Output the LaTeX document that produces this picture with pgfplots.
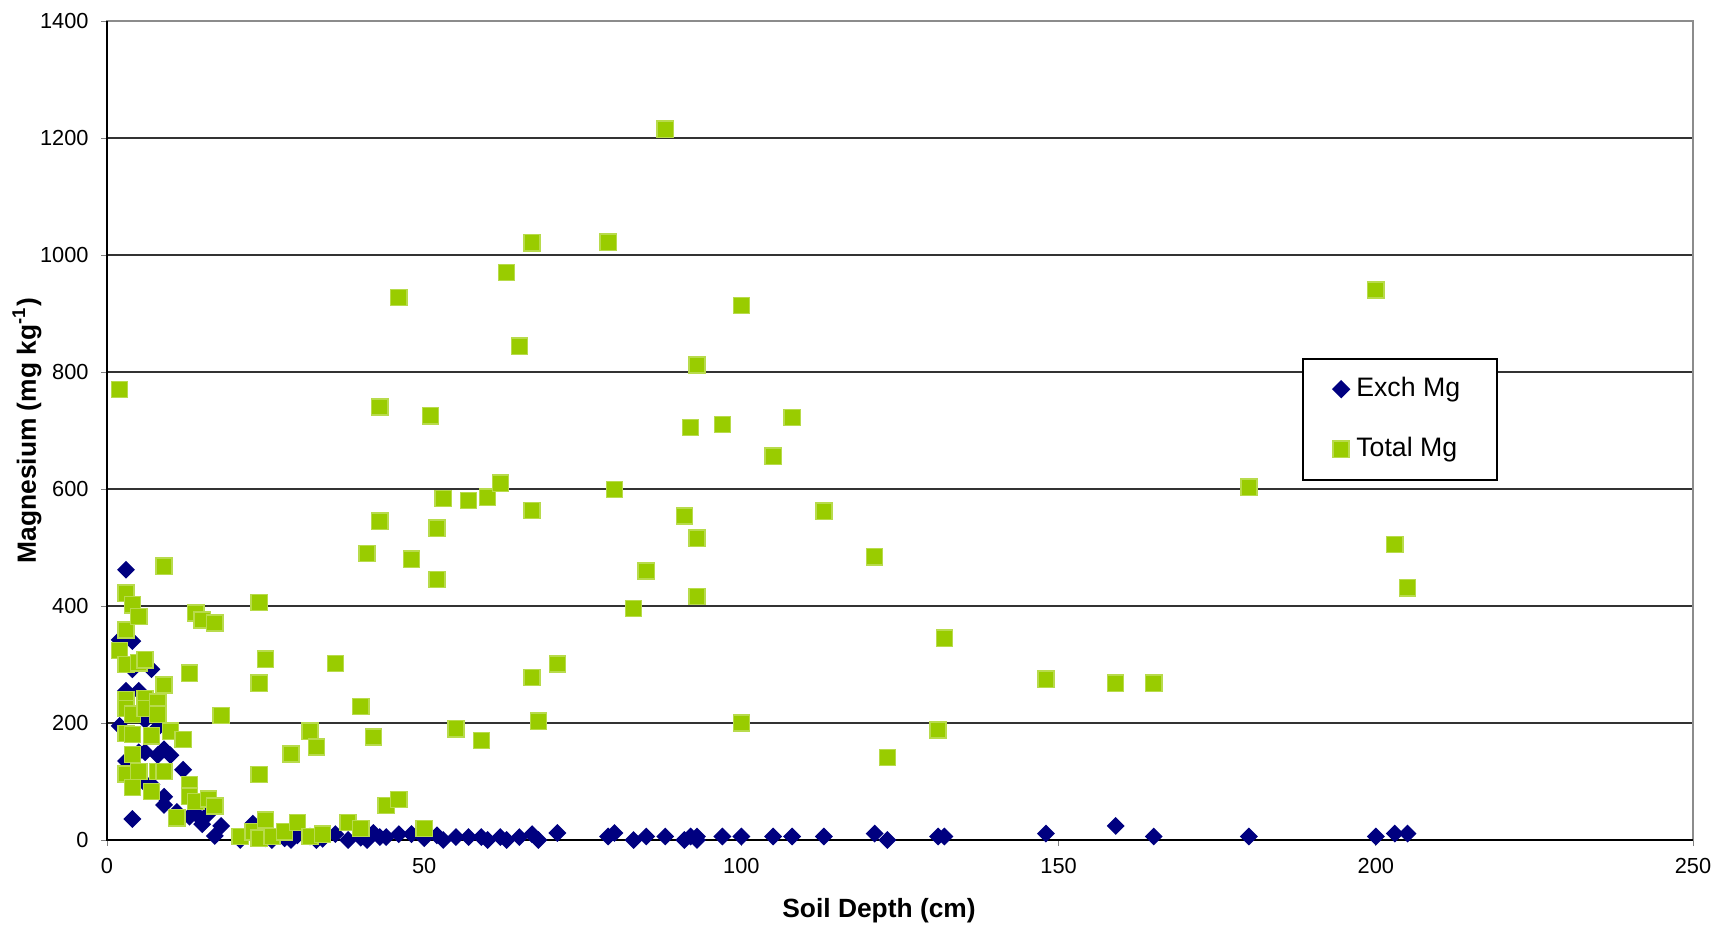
\documentclass[border=0pt]{standalone}
\usepackage{fontspec}
\setmainfont{Liberation Sans}
\usepackage{pgfplots}
\pgfplotsset{compat=1.18}
\definecolor{exch}{RGB}{0,0,128}
\definecolor{totl}{RGB}{153,204,0}
\begin{document}
\begin{tikzpicture}
\begin{axis}[
  scale only axis,
  width=15.86cm, height=8.19cm,
  xmin=0, xmax=250, ymin=0, ymax=1400,
  xtick={0,50,...,250}, ytick={0,200,...,1400},
  /pgf/number format/assume math mode=true,
  /pgf/number format/1000 sep={},
  tick label style={font=\fontsize{6.2}{7}\selectfont},
  tick align=outside, tick pos=left,
  major tick length=0.06cm,
  ymajorgrids, grid style={black!80, line width=0.45pt},
  axis line style={black!45, line width=0.5pt},
  xlabel={\textbf{Soil Depth (cm)}},
  ylabel={\textbf{Magnesium (mg kg\textsuperscript{-1})}},
  label style={font=\fontsize{7.5}{9}\selectfont},
  xlabel style={at={(axis description cs:0.5,0)}, anchor=center, yshift=-0.71cm, xshift=-0.21cm},
  ylabel style={at={(axis description cs:0,0.5)}, anchor=center, yshift=0.8cm},
  legend style={at={(axis cs:188.4,824)}, anchor=north west, draw=black,
    font=\fontsize{7.6}{8.8}\selectfont, inner xsep=0.3cm, inner ysep=0.11cm,
    row sep=0.215cm, line width=0.5pt},
  legend cell align=left,
  clip=false,
]
\draw[black, line width=0.6pt] (rel axis cs:0,1) -- (rel axis cs:0,0) -- (rel axis cs:1,0);
\addplot[only marks, mark=square*, mark size=1.6pt, mark options={rotate=45, fill=exch, draw=exch}] coordinates {
(2,195)(2,342)(3,462)(3,135)(3,255)(4,340)(4,292)(4,36)(5,150)(5,255)(6,205)(6,150)(6,97)(7,95)(7,292)(8,192)(8,145)(9,155)(9,74)(9,60)(10,145)(11,48)(12,120)(13,40)(14,45)(15,27)(16,45)(17,7)(18,24)
(21,0)(23,28)(24,25)(25,3)(26,0)(28,3)(29,0)(30,8)(32,6)(33,0)(34,2)(36,10)(38,0)(40,4)(41,0)(42,12)(43,5)(44,5)(46,10)(48,10)(50,3)(52,8)(53,0)(55,5)(57,5)(59,5)(60,0)(62,5)(63,0)(65,5)(67,10)(68,0)(71,12)(79,6)(80,12)(83,0)(85,6)(88,6)(91,0)(92,6)(93,6)(93,0)(97,6)(100,6)(105,6)(108,6)(113,6)(121,11)(123,0)(131,6)(132,6)(148,11)(159,24)(165,6)(180,6)(200,6)(203,11)(205,11)
};
\addlegendentry{Exch Mg}
\addplot[only marks, mark=square*, mark size=2.3pt, mark options={fill=totl, draw=totl!70!white}] coordinates {
(2,770)(2,324)(3,422)(3,359)(3,300)(3,240)(3,225)(3,182)(3,113)(4,402)(4,215)(4,180)(4,146)(4,90)(5,382)(5,303)(5,117)(6,308)(6,242)(6,225)(7,178)(7,83)(8,236)(8,215)(8,117)(9,468)(9,265)(9,117)(10,186)(11,38)(12,172)(13,285)(13,95)(13,75)(14,388)(14,66)(15,376)(16,70)(17,371)(17,58)(18,213)(21,6)(23,14)(24,406)(24,268)(24,112)(24,3)(25,309)(25,34)(26,6)(28,14)(29,147)(30,30)(32,186)(32,6)(33,159)(34,10)(36,302)(38,30)(40,228)(40,20)(41,490)(42,176)(43,545)(43,740)(44,59)(46,69)(46,927)(48,480)(50,20)(51,725)(52,533)(52,445)(53,584)(55,190)(57,580)(59,170)(60,586)(62,610)(63,970)(65,844)(67,1021)(67,563)(67,278)(68,203)(71,301)(79,1022)(80,599)(83,396)(85,460)(88,1215)(91,554)(92,705)(93,812)(93,516)(93,416)(97,710)(100,914)(100,200)(105,656)(108,722)(113,562)(121,484)(123,141)(131,188)(132,345)(148,275)(159,268)(165,268)(180,603)(200,940)(203,505)(205,431)
};
\addlegendentry{Total Mg}
\end{axis}
\pgfresetboundingbox
\useasboundingbox ([shift={(-1.07cm,-0.92cm)}]current axis.south west) rectangle ([shift={(0.39cm,0.21cm)}]current axis.north east);
\end{tikzpicture}
\end{document}
